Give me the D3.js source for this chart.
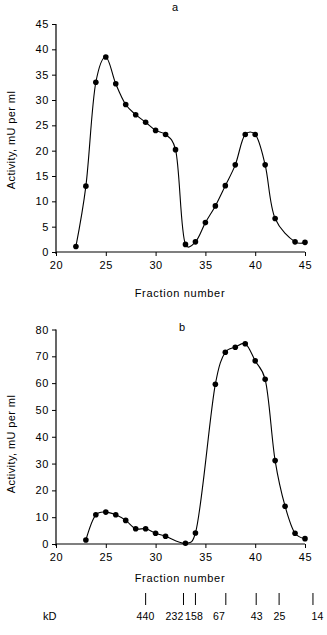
<!DOCTYPE html>
<html><head><meta charset="utf-8">
<script src="https://cdn.jsdelivr.net/npm/d3@7"></script>
<style>
html,body{margin:0;padding:0;background:#fff;}
svg{display:block;}
text{font-family:"Liberation Sans",Arial,sans-serif;fill:#000;}
</style></head>
<body>
<svg id="c" width="327" height="635"></svg>
<script>
// Panel a
const fractionsA = [22,23,24,25,26,27,28,29,30,31,32,33,34,35,36,37,38,39,40,41,42,44,45];
const activityA  = [1.1,13,33.5,38.5,33.2,29.1,27.1,25.6,24.0,23.2,20.2,1.5,2.0,5.8,9.1,13.1,17.2,23.2,23.2,17.2,6.6,2.0,1.9];
const yTicksA = [0,5,10,15,20,25,30,35,40,45];
// Panel b
const fractionsB = [23,24,25,26,27,28,29,30,31,33,34,36,37,38,39,40,41,42,43,44,45];
const activityB  = [1.5,10.9,11.9,10.9,8.8,5.7,5.7,4.0,2.9,0.3,4.1,59.6,71.5,73.4,74.7,68.3,61.4,31.1,14.1,4.0,2.0];
const yTicksB = [0,10,20,30,40,50,60,70,80];
const xTicks = [20,25,30,35,40,45];
// Molecular weight markers (tick position and label position, in fraction units)
const markerLabels = ["440","232","158","67","43","25","14"];
const markerFractions = [29.0,32.8,34.0,37.05,40.1,42.4,45.8];
const markerLabelFractions = [28.99,31.9,33.85,36.37,40.15,42.44,46.25];

const svg = d3.select("#c");
const fontSize = 11;

function panel(cfg){
  const x = d3.scaleLinear().domain([20,45]).range([56,305]);
  const y = d3.scaleLinear().domain(cfg.yDomain).range([cfg.bottom, cfg.top]);
  const g = svg.append("g");
  const yAxis = g.append("g").attr("transform","translate(56,0)")
    .call(d3.axisLeft(y).tickValues(cfg.yTicks).tickSize(4).tickPadding(3).tickFormat(d3.format("d")));
  const xAxis = g.append("g").attr("transform",`translate(0,${cfg.bottom})`)
    .call(d3.axisBottom(x).tickValues(xTicks).tickSize(4).tickPadding(5).tickFormat(d3.format("d")));
  [yAxis,xAxis].forEach(a=>{
    a.select(".domain").attr("stroke","#000").attr("stroke-width",1.2);
    a.selectAll(".tick line").attr("stroke","#000");
    a.selectAll("text").attr("font-size",fontSize).attr("font-family","Liberation Sans, Arial, sans-serif").attr("fill","#000").attr("letter-spacing",0.6);
  });
  xAxis.select(".domain").attr("d",`M56,0H305`);
  yAxis.select(".domain").attr("d",`M0,${cfg.top}V${cfg.bottom+2}`);
  const line = d3.line().x((d,i)=>x(cfg.xs[i])).y(d=>y(d)).curve(d3.curveCatmullRom.alpha(0.25));
  g.append("path").datum(cfg.ys).attr("d",line).attr("fill","none").attr("stroke","#000").attr("stroke-width",1.1);
  g.selectAll("circle.pt").data(cfg.ys).join("circle").attr("class","pt")
    .attr("cx",(d,i)=>x(cfg.xs[i])).attr("cy",d=>y(d)).attr("r",2.8).attr("fill","#000");
  g.append("text").attr("x",cfg.titleX).attr("y",cfg.titleY).attr("text-anchor","middle")
    .attr("font-size",fontSize).text(cfg.title);
  g.append("text").attr("x",180).attr("y",cfg.xLabelY).attr("text-anchor","middle")
    .attr("font-size",fontSize).attr("letter-spacing",0.7).text("Fraction number");
  g.append("text").attr("transform",`translate(15,${cfg.yLabelY}) rotate(-90)`).attr("text-anchor","middle")
    .attr("font-size",fontSize).attr("letter-spacing",0.4).text("Activity, mU per ml");
  return x;
}

const xb = panel({yDomain:[0,45], yTicks:yTicksA, top:24, bottom:252, xs:fractionsA, ys:activityA,
  title:"a", titleX:175, titleY:11, xLabelY:297, yLabelY:140});
panel({yDomain:[0,80], yTicks:yTicksB, top:329.5, bottom:544, xs:fractionsB, ys:activityB,
  title:"b", titleX:182, titleY:331, xLabelY:582, yLabelY:444});

// kD markers
const mk = svg.append("g");
mk.selectAll("line").data(markerFractions).join("line")
  .attr("x1",d=>xb(d)).attr("x2",d=>xb(d)).attr("y1",593).attr("y2",605)
  .attr("stroke","#000").attr("stroke-width",1);
mk.selectAll("text.m").data(markerLabels).join("text").attr("class","m")
  .attr("x",(d,i)=>xb(markerLabelFractions[i])).attr("y",620).attr("text-anchor","middle")
  .attr("font-size",10.5).attr("letter-spacing",0.2).text(d=>d);
mk.append("text").attr("x",43).attr("y",620).attr("font-size",fontSize).text("kD");
</script>
</body></html>
